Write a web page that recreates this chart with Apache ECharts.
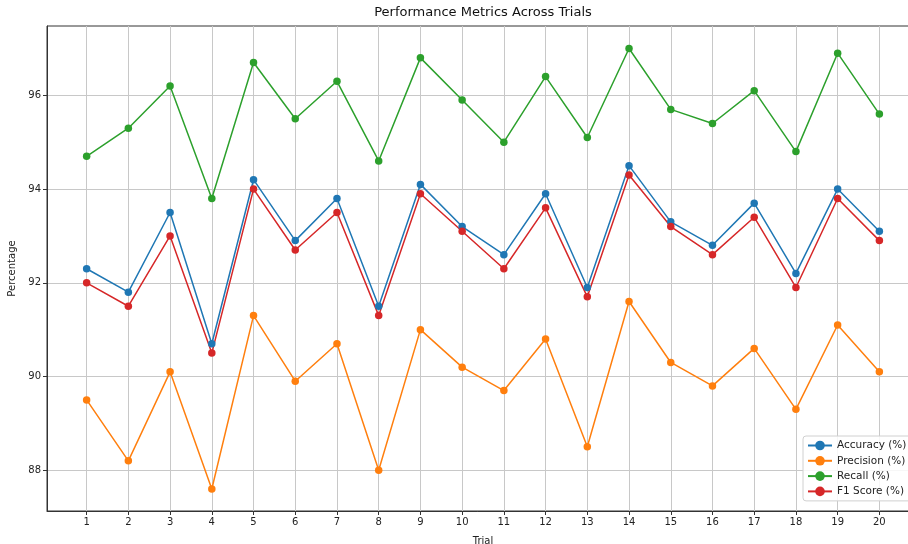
<!DOCTYPE html>
<html>
<head>
<meta charset="utf-8">
<script src="https://cdn.jsdelivr.net/npm/echarts@6/dist/echarts.min.js"></script>
<style>
html,body{margin:0;padding:0;background:#fff;}
#chart{width:908px;height:544px;}
</style>
</head>
<body>
<div id="chart"></div>
<script>
const trials = [1,2,3,4,5,6,7,8,9,10,11,12,13,14,15,16,17,18,19,20];
const accuracy  = [92.3,91.8,93.5,90.7,94.2,92.9,93.8,91.5,94.1,93.2,92.6,93.9,91.9,94.5,93.3,92.8,93.7,92.2,94.0,93.1];
const precision = [89.5,88.2,90.1,87.6,91.3,89.9,90.7,88.0,91.0,90.2,89.7,90.8,88.5,91.6,90.3,89.8,90.6,89.3,91.1,90.1];
const recall    = [94.7,95.3,96.2,93.8,96.7,95.5,96.3,94.6,96.8,95.9,95.0,96.4,95.1,97.0,95.7,95.4,96.1,94.8,96.9,95.6];
const f1        = [92.0,91.5,93.0,90.5,94.0,92.7,93.5,91.3,93.9,93.1,92.3,93.6,91.7,94.3,93.2,92.6,93.4,91.9,93.8,92.9];
const xTicks = [1,2,3,4,5,6,7,8,9,10,11,12,13,14,15,16,17,18,19,20];
const yTicks = [88,90,92,94,96];
const seriesNames = ['Accuracy (%)','Precision (%)','Recall (%)','F1 Score (%)'];
const colors = ['#1f77b4','#ff7f0e','#2ca02c','#d62728'];

const FONT = 'DejaVu Sans';
const chart = echarts.init(document.getElementById('chart'), null, {renderer:'canvas'});
function mk(name, vals, color){
  return {
    name: name, type: 'line',
    data: trials.map((t,i)=>[t, vals[i]]),
    symbol: 'circle', symbolSize: 7.5,
    itemStyle: {color: color},
    lineStyle: {color: color, width: 1.5},
    animation: false
  };
}
chart.setOption({
  animation: false,
  color: colors,
  title: {
    text: 'Performance Metrics Across Trials',
    left: 483, top: 6, textAlign: 'center', padding: 0,
    textStyle: {fontFamily: FONT, fontSize: 13, fontWeight: 'normal', color: '#111'}
  },
  grid: {left: 47, top: 26, width: 872, height: 485, outerBoundsMode: 'none', containLabel: false,
         show: true, borderColor: '#333', borderWidth: 1, backgroundColor: 'transparent'},
  legend: {
    orient: 'vertical', left: 803, top: 436,
    data: seriesNames,
    itemWidth: 24, itemHeight: 12, itemGap: 4.3,
    padding: [4, 6, 4, 4],
    borderColor: '#d0d0d0', borderWidth: 1, borderRadius: 3,
    backgroundColor: 'rgba(255,255,255,0.85)',
    textStyle: {fontFamily: FONT, fontSize: 10.5, color: '#222'}
  },
  xAxis: {
    type: 'value', min: 0.05, max: 20.95,
    name: 'Trial', nameLocation: 'middle', nameGap: 25,
    nameTextStyle: {fontFamily: FONT, fontSize: 10, color: '#222'},
    axisLine: {show: true, lineStyle: {color: '#333', width: 1}},
    axisTick: {show: true, inside: false, length: 4, lineStyle: {color: '#333'}, customValues: xTicks},
    axisLabel: {fontFamily: FONT, fontSize: 10, color: '#222', margin: 6, customValues: xTicks},
    splitLine: {show: true, lineStyle: {color: '#c8c8c8', width: 1}}
  },
  yAxis: {
    type: 'value', min: 87.13, max: 97.48,
    name: 'Percentage', nameLocation: 'middle', nameGap: 27, nameRotate: 90,
    nameTextStyle: {fontFamily: FONT, fontSize: 10, color: '#222'},
    axisLine: {show: true, lineStyle: {color: '#333', width: 1}},
    axisTick: {show: true, inside: false, length: 4, lineStyle: {color: '#333'}, customValues: yTicks},
    axisLabel: {fontFamily: FONT, fontSize: 10, color: '#222', margin: 6, customValues: yTicks},
    splitLine: {show: true, lineStyle: {color: '#c8c8c8', width: 1}}
  },
  series: [
    mk(seriesNames[0], accuracy, colors[0]),
    mk(seriesNames[1], precision, colors[1]),
    mk(seriesNames[2], recall, colors[2]),
    mk(seriesNames[3], f1, colors[3])
  ]
});
</script>
</body>
</html>
